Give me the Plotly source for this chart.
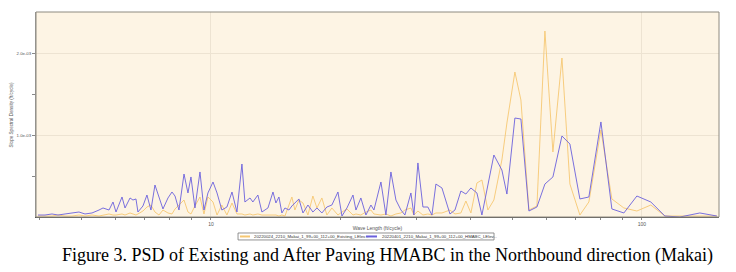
import plotly.graph_objects as go

# Wavelength grid (ft/cycle) shared by both PSD series
wavelength = [
    3.968, 4.120, 4.277, 4.416, 4.585, 4.760, 4.940, 5.102, 5.296, 5.498,
    5.617, 5.800, 5.925, 6.021, 6.217, 6.318, 6.489, 6.592, 6.699, 6.770,
    6.953, 7.103, 7.257, 7.414, 7.575, 7.738, 7.948, 8.120, 8.252, 8.430,
    8.659, 8.844, 8.987, 9.181, 9.430, 9.634, 9.840, 10.11, 10.33, 10.60,
    10.89, 11.19, 11.49, 11.80, 11.99, 12.32, 12.51, 12.85, 13.13, 13.56,
    13.93, 14.15, 14.38, 14.61, 14.85, 15.17, 15.41, 15.66, 16.00, 16.35,
    16.79, 17.24, 17.62, 18.09, 18.58, 19.08, 19.71, 20.14, 20.68, 21.36,
    21.70, 22.28, 22.89, 23.51, 23.89, 24.80, 25.47, 26.16, 26.87, 27.60,
    28.19, 29.11, 29.58, 30.22, 31.04, 31.87, 32.57, 33.27, 34.36, 35.86,
    36.83, 38.02, 39.05, 40.11, 41.42, 42.54, 43.92, 45.35, 47.33, 48.62,
    50.74, 52.40, 54.69, 57.08, 59.57, 62.17, 65.24, 68.08, 71.81, 75.34,
    80.35, 85.19, 90.83, 97.37, 104.9, 113.1, 122.5, 136.3, 149.3,
]

# Slope spectral density, in units of 1e-3 ft/cycle
existing_e3 = [
    0.012, 0.012, 0.012, 0.024, 0.012, 0.012, 0.024, 0.012, 0.024, 0.012,
    0.024, 0.037, 0.024, 0.024, 0.037, 0.024, 0.049, 0.037, 0.024, 0.037,
    0.073, 0.122, 0.146, 0.061, 0.024, 0.085, 0.049, 0.037, 0.098, 0.146,
    0.207, 0.061, 0.037, 0.134, 0.244, 0.037, 0.244, 0.183, 0.024, 0.146,
    0.024, 0.171, 0.037, 0.037, 0.024, 0.037, 0.024, 0.037, 0.024, 0.024,
    0.024, 0.024, 0.012, 0.024, 0.012, 0.146, 0.244, 0.085, 0.207, 0.171,
    0.024, 0.256, 0.110, 0.232, 0.024, 0.110, 0.024, 0.061, 0.098, 0.024,
    0.037, 0.024, 0.061, 0.085, 0.037, 0.024, 0.037, 0.012, 0.037, 0.049,
    0.085, 0.110, 0.024, 0.073, 0.024, 0.037, 0.024, 0.049, 0.049, 0.085,
    0.037, 0.049, 0.195, 0.049, 0.415, 0.451, 0.085, 0.207, 0.695, 1.146,
    1.768, 1.427, 0.085, 0.134, 2.268, 0.793, 1.939, 0.402, 0.024, 0.183,
    1.061, 0.220, 0.110, 0.073, 0.146, 0.012, 0.012, 0.012, 0.012,
]

hmabc_e3 = [
    0.024, 0.024, 0.037, 0.024, 0.037, 0.049, 0.061, 0.037, 0.049, 0.085,
    0.110, 0.085, 0.183, 0.061, 0.244, 0.110, 0.232, 0.207, 0.220, 0.061,
    0.134, 0.268, 0.085, 0.390, 0.244, 0.098, 0.232, 0.305, 0.256, 0.085,
    0.524, 0.293, 0.488, 0.110, 0.549, 0.085, 0.293, 0.427, 0.293, 0.085,
    0.122, 0.305, 0.061, 0.646, 0.183, 0.232, 0.183, 0.268, 0.061, 0.110,
    0.305, 0.171, 0.244, 0.049, 0.110, 0.085, 0.134, 0.171, 0.220, 0.049,
    0.146, 0.061, 0.110, 0.049, 0.122, 0.146, 0.305, 0.012, 0.110, 0.268,
    0.085, 0.232, 0.024, 0.146, 0.085, 0.427, 0.024, 0.549, 0.207, 0.085,
    0.024, 0.293, 0.024, 0.659, 0.122, 0.122, 0.024, 0.402, 0.354, 0.037,
    0.085, 0.317, 0.280, 0.354, 0.293, 0.024, 0.390, 0.756, 0.573, 0.280,
    1.207, 1.195, 0.073, 0.122, 0.402, 0.488, 0.988, 0.890, 0.220, 0.244,
    1.159, 0.098, 0.049, 0.256, 0.183, 0.012, 0.0, 0.049, 0.012,
]

series_names = [
    "20220024_2210_Makai_1_99+00_112+00_Existing_LElev...",
    "20220401_2210_Makai_1_99+00_112+00_HMABC_LElev...",
]
series_colors = ["#F6C772", "#6A60DC"]

x_major_ticks = [10, 100]
x_minor_ticks = [4, 5, 6, 7, 8, 9, 20, 30, 40, 50, 60, 70, 80, 90]
y_major_ticks = [0.001, 0.002]
y_major_text = ["1.0e-03", "2.0e-03"]
y_minor_ticks = [0.0005, 0.0015]

caption = "Figure 3. PSD of Existing and After Paving HMABC in the Northbound direction (Makai)"

SANS = "Liberation Sans, Arial, sans-serif"
GRAY = "#555555"

fig = go.Figure()
for vals, name, col in zip([existing_e3, hmabc_e3], series_names, series_colors):
    fig.add_trace(go.Scatter(
        x=wavelength, y=[v * 1e-3 for v in vals], mode="lines", name=name,
        line=dict(color=col, width=0.9), hoverinfo="skip",
    ))

fig.update_layout(
    width=736, height=272,
    margin=dict(l=36, r=17, t=12, b=55),
    paper_bgcolor="white", plot_bgcolor="#FDF4E4",
    showlegend=False,
)

fig.update_xaxes(
    type="log", range=[0.594, 2.179], automargin=False,
    tickmode="array", tickvals=x_major_ticks, ticktext=[str(t) for t in x_major_ticks],
    ticks="outside", ticklen=2, tickcolor="#888888",
    tickfont=dict(size=5, color=GRAY, family=SANS),
    showgrid=True, gridcolor="#EDE3D2", gridwidth=1,
    showline=True, linecolor="#555555", linewidth=1, zeroline=False,
    minor=dict(tickmode="array", tickvals=x_minor_ticks, ticks="outside", ticklen=2,
               tickcolor="#888888", showgrid=False),
    title=dict(text="Wave Length (ft/cycle)", font=dict(size=5, color=GRAY, family=SANS), standoff=0),
)
fig.update_yaxes(
    range=[0, 0.0025], automargin=False,
    tickmode="array", tickvals=y_major_ticks, ticktext=y_major_text,
    ticks="outside", ticklen=3, tickcolor="#888888",
    tickfont=dict(size=4.3, color=GRAY, family=SANS),
    showgrid=True, gridcolor="#EDE3D2", gridwidth=1,
    showline=True, linecolor="#999999", linewidth=1, zeroline=False,
    minor=dict(tickmode="array", tickvals=y_minor_ticks, ticks="outside", ticklen=3,
               tickcolor="#888888", showgrid=False),
)

# y-axis title placed beside the tick labels
fig.add_annotation(x=-0.0366, y=0.5, xref="paper", yref="paper", text="Slope Spectral Density (ft/cycle)",
                   textangle=-90, showarrow=False, xanchor="center", yanchor="middle",
                   font=dict(size=4.6, color=GRAY, family=SANS))

# plot frame
fig.add_shape(type="rect", xref="paper", yref="paper", x0=0, x1=1, y0=0, y1=1,
              line=dict(color="#8E8A80", width=1), fillcolor="rgba(0,0,0,0)", layer="above")

# legend box (manual, below the axis title)
fig.add_shape(type="rect", xref="paper", yref="paper", x0=0.2958, x1=0.6706, y0=-0.112, y1=-0.078,
              line=dict(color="#777777", width=0.8), fillcolor="white")
legend_swatch_x = [(0.2987, 0.3133), (0.4832, 0.4993)]
legend_text_x = [0.3160, 0.5030]
for (sx0, sx1), tx, name, col in zip(legend_swatch_x, legend_text_x, series_names, series_colors):
    fig.add_shape(type="line", xref="paper", yref="paper", x0=sx0, x1=sx1, y0=-0.095, y1=-0.095,
                  line=dict(color=col, width=2))
    fig.add_annotation(x=tx, y=-0.095, xref="paper", yref="paper", text=name, showarrow=False,
                       xanchor="left", yanchor="middle", font=dict(size=4.3, color="#333333", family=SANS))

fig.add_annotation(x=0.514, y=-0.19, xref="paper", yref="paper", text=caption, showarrow=False,
                   xanchor="center", yanchor="middle",
                   font=dict(size=18, color="black", family="Liberation Serif, Times New Roman, serif"))

fig.write_html("out.html")
